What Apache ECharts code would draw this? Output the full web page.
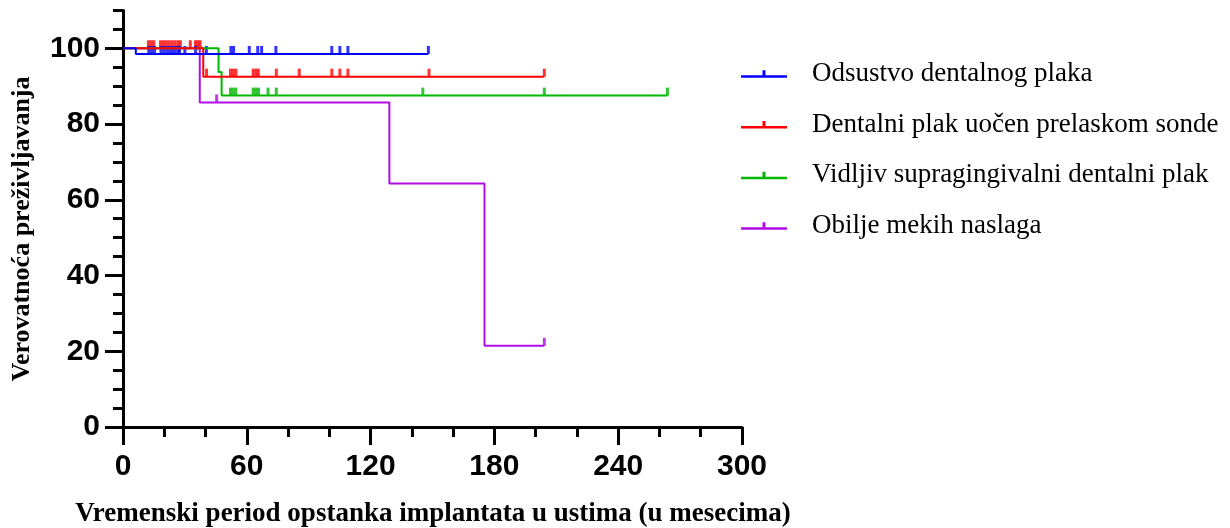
<!DOCTYPE html>
<html>
<head>
<meta charset="utf-8">
<script src="https://cdn.jsdelivr.net/npm/echarts@6/dist/echarts.min.js"></script>
<style>
  html, body { margin: 0; padding: 0; background: #fff; }
  #chart { width: 1230px; height: 528px; }
</style>
</head>
<body>
<div id="chart"></div>
<script>
// Kaplan–Meier survival of implants by plaque group (time in months, survival in %)
const groupNames = [
  'Odsustvo dentalnog plaka',
  'Dentalni plak uočen prelaskom sonde',
  'Vidljiv supragingivalni dentalni plak',
  'Obilje mekih naslaga'
];

// Group 1: no plaque
const noPlaqueEventTimes = [6.2];
const noPlaqueSurvival = [98.5];
const noPlaqueCensored = [12.5, 13.9, 15.3, 18.4, 19.8, 21.2, 22.6, 24.0, 25.4, 26.8, 27.4, 30.0, 35.2, 40.4,
  52.3, 53.6, 61.2, 65.3, 67.2, 74.1, 101.2, 105.1, 109.0, 148.0];

// Group 2: plaque seen when passing the probe
const probePlaqueEventTimes = [38.9];
const probePlaqueSurvival = [92.5];
const probePlaqueCensored = [12.3, 13.6, 14.9, 18.2, 19.6, 21.0, 22.4, 23.8, 25.2, 26.6, 27.8, 32.6, 35.1, 36.3, 37.4,
  40.5, 52.1, 53.4, 54.7, 63.1, 64.4, 65.6, 74.3, 85.4, 101.2, 105.1, 109.0, 148.3, 204.2];

// Group 3: visible supragingival plaque
const visiblePlaqueEventTimes = [46.3, 47.8];
const visiblePlaqueSurvival = [93.75, 87.5];
const visiblePlaqueCensored = [52.1, 53.4, 54.7, 63.1, 64.4, 65.7, 70.3, 74.3, 145.3, 204.2, 263.9];

// Group 4: abundant soft deposits
const softDepositEventTimes = [37.2, 129.1, 175.2];
const softDepositSurvival = [85.71, 64.29, 21.43];
const softDepositCensored = [45.4, 204.2];

const xTickLabels = [0, 60, 120, 180, 240, 300];
const yTickLabels = [0, 20, 40, 60, 80, 100];

const groupColors = ['#0000FF', '#FF0000', '#00B800', '#B10DE8'];

const groups = [
  { events: noPlaqueEventTimes, surv: noPlaqueSurvival, cens: noPlaqueCensored },
  { events: probePlaqueEventTimes, surv: probePlaqueSurvival, cens: probePlaqueCensored },
  { events: visiblePlaqueEventTimes, surv: visiblePlaqueSurvival, cens: visiblePlaqueCensored },
  { events: softDepositEventTimes, surv: softDepositSurvival, cens: softDepositCensored }
];

// step curve points: start at 100 %, one point per event, then run to the last follow-up
function curvePoints(g) {
  const pts = [[0, 100]];
  g.events.forEach((t, i) => pts.push([t, g.surv[i]]));
  const end = Math.max(...g.cens, ...g.events);
  pts.push([end, g.surv[g.surv.length - 1]]);
  return pts;
}
// survival level in force at time t
function levelAt(g, t) {
  let s = 100;
  g.events.forEach((e, i) => { if (e <= t) s = g.surv[i]; });
  return s;
}

const LEGEND_ICON = 'path://M0,5H46V7.5H0Z M21.5,0H24.5V5H21.5Z';
const serif = '"Liberation Serif", "Times New Roman", serif';
const sans = '"Liberation Sans", Arial, sans-serif';

// draw order: purple at the back, blue on top
const series = [];
[3, 2, 1, 0].forEach(i => {
  const g = groups[i];
  series.push({
    name: groupNames[i],
    type: 'line',
    step: 'end',
    data: curvePoints(g),
    showSymbol: false,
    symbol: 'none',
    lineStyle: { color: groupColors[i], width: 2 },
    itemStyle: { color: groupColors[i] },
    animation: false,
    silent: true
  });
  series.push({
    name: groupNames[i],
    type: 'scatter',
    data: g.cens.map(t => [t, levelAt(g, t)]),
    symbol: 'rect',
    symbolSize: [3, 8],
    symbolOffset: [0, -4],
    itemStyle: { color: groupColors[i] },
    animation: false,
    silent: true
  });
});

const Y_MAX = 110;
const axisLine = { show: true, lineStyle: { color: '#000', width: 3 } };

const chart = echarts.init(document.getElementById('chart'));
chart.setOption({
  backgroundColor: '#fff',
  animation: false,
  grid: { left: 123, right: 488, top: 10.4, bottom: 101, containLabel: false },
  xAxis: [
    {
      type: 'value', min: 0, max: 300, interval: 60,
      axisLine: axisLine,
      axisTick: { show: true, length: 18, lineStyle: { color: '#000', width: 3 } },
      axisLabel: {
        show: true, margin: 25, color: '#000',
        fontFamily: sans, fontWeight: 'bold', fontSize: 30,
        customValues: xTickLabels
      },
      splitLine: { show: false }
    },
    {
      type: 'value', min: 0, max: 300, interval: 20, position: 'bottom',
      axisLine: { show: false },
      axisTick: { show: true, length: 10, lineStyle: { color: '#000', width: 3 } },
      axisLabel: { show: false },
      splitLine: { show: false }
    }
  ],
  yAxis: [
    {
      type: 'value', min: 0, max: Y_MAX, interval: 20,
      axisLine: axisLine,
      axisTick: { show: true, length: 18, lineStyle: { color: '#000', width: 3 }, customValues: yTickLabels },
      axisLabel: {
        show: true, margin: 23, color: '#000',
        fontFamily: sans, fontWeight: 'bold', fontSize: 30,
        customValues: yTickLabels
      },
      splitLine: { show: false }
    },
    {
      type: 'value', min: 0, max: Y_MAX, interval: 5, position: 'left',
      axisLine: { show: false },
      axisTick: { show: true, length: 10, lineStyle: { color: '#000', width: 3 } },
      axisLabel: { show: false },
      splitLine: { show: false }
    }
  ],
  legend: {
    orient: 'vertical',
    left: 741, top: 60,
    padding: 0,
    itemWidth: 46, itemHeight: 7.5,
    itemGap: 22.7,
    selectedMode: false,
    textStyle: {
      color: '#000', fontFamily: serif, fontSize: 27, lineHeight: 28,
      padding: [0, 0, 0, 20]
    },
    data: groupNames.map((n, i) => ({ name: n, icon: LEGEND_ICON, itemStyle: { color: groupColors[i] } }))
  },
  graphic: [
    {
      type: 'text',
      x: 433, y: 514,
      style: {
        text: 'Vremenski period opstanka implantata u ustima (u mesecima)',
        x: 0, y: 0, textAlign: 'center', textVerticalAlign: 'middle',
        fontFamily: serif, fontWeight: 'bold', fontSize: 27, fill: '#000'
      }
    },
    {
      type: 'text',
      x: 22, y: 229, rotation: Math.PI / 2,
      style: {
        text: 'Verovatnoća preživljavanja',
        x: 0, y: 0, textAlign: 'center', textVerticalAlign: 'middle',
        fontFamily: serif, fontWeight: 'bold', fontSize: 26, fill: '#000'
      }
    }
  ],
  series: series
});
</script>
</body>
</html>
